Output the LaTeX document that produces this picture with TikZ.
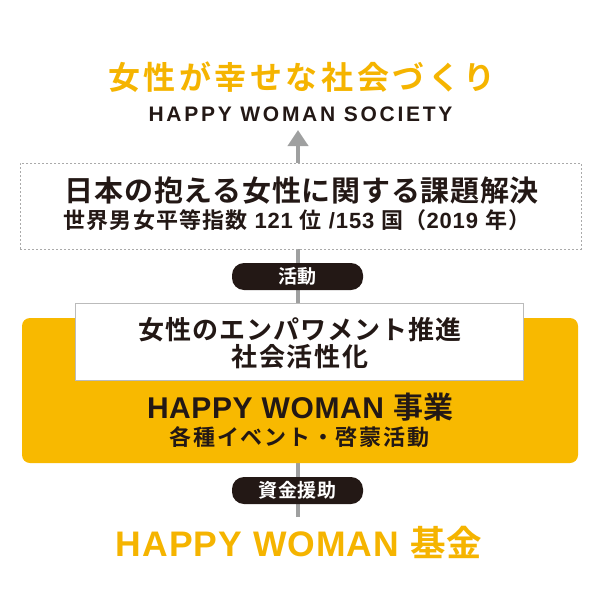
\documentclass[tikz,border=0pt]{standalone}
\usepackage{fontspec}
\setmainfont{Liberation Sans}
\newfontfamily\lat{Liberation Sans Bold}
\newfontfamily\jp{Noto Sans CJK JP Bold}
\usetikzlibrary{arrows.meta}
\definecolor{hwgold}{HTML}{F5B400}
\definecolor{hwbox}{HTML}{F8B900}
\definecolor{ink}{HTML}{231815}
\definecolor{linegray}{HTML}{9FA0A0}
\definecolor{dashgray}{HTML}{AAAAAA}
\definecolor{boxgray}{HTML}{BBBBBB}
\newcommand\fs[1]{\fontsize{#1}{#1}\selectfont}
\newcommand\ls[1]{\addfontfeature{LetterSpace=#1}}
\newcommand\jq{\jp\ls{5}}
\tikzset{
  every node/.style={inner sep=0pt, text=ink},
  pill/.style={fill=ink, rounded corners=12pt, minimum width=131pt, minimum height=27pt, text=white, font=\jp\fs{19}\ls{5}},
  dashbox/.style={draw=dashgray, dash pattern=on 2pt off 2pt, line width=1pt, fill=white},
  whitebox/.style={draw=boxgray, line width=0.8pt, fill=white},
  goldbox/.style={fill=hwbox, rounded corners=8pt},
  flow/.style={linegray, line width=4.5pt, -{Triangle[width=20pt,length=16pt]}}
}
\begin{document}
\begin{tikzpicture}[x=1pt,y=-1pt]
\useasboundingbox (0,0) rectangle (600,600);
\node[font=\jp\fs{32}\ls{11}, text=hwgold] (title) at (302,77) {女性が幸せな社会づくり};
\node[font=\lat\fs{21}\ls{13}] (society) at (300.5,114.5) {HAPPY WOMAN SOCIETY};
\coordinate (fundtop) at (298,517);
\coordinate (goal) at (298,130);
\draw[flow] (fundtop) -- (goal);
\node[dashbox, minimum width=561pt, minimum height=86pt] (issue) at (300.5,206) {};
\node[font=\jp\fs{29}\ls{2.5}] (issue1) at (302,191) {日本の抱える女性に関する課題解決};
\node[font=\lat\fs{22}\ls{4}] (issue2) at (297,220) {{\jq 世界男女平等指数} 121 {\jq 位} /153 {\jq 国（}2019 {\jq 年）}};
\node[pill] (actlbl) at (297.5,276.5) {活動};
\node[goldbox, minimum width=556pt, minimum height=145pt] (project) at (300,390.5) {};
\node[whitebox, minimum width=448pt, minimum height=77pt] (empower) at (299,341.5) {};
\node[font=\jp\fs{26}\ls{4}] (emp1) at (300,330) {女性のエンパワメント推進};
\node[font=\jp\fs{26}\ls{6}] (emp2) at (300,357) {社会活性化};
\node[font=\lat\fs{30}\ls{2}] (proj1) at (300,407) {HAPPY WOMAN {\jp 事業}};
\node[font=\jp\fs{22}\ls{8}] (proj2) at (299.5,437.5) {各種イベント・啓蒙活動};
\node[pill] (fundlbl) at (297.5,490.5) {資金援助};
\node[font=\lat\fs{35.5}\ls{3}, text=hwgold] (fund) at (299,542) {HAPPY WOMAN {\jp\ls{3} 基金}};
\end{tikzpicture}
\end{document}
